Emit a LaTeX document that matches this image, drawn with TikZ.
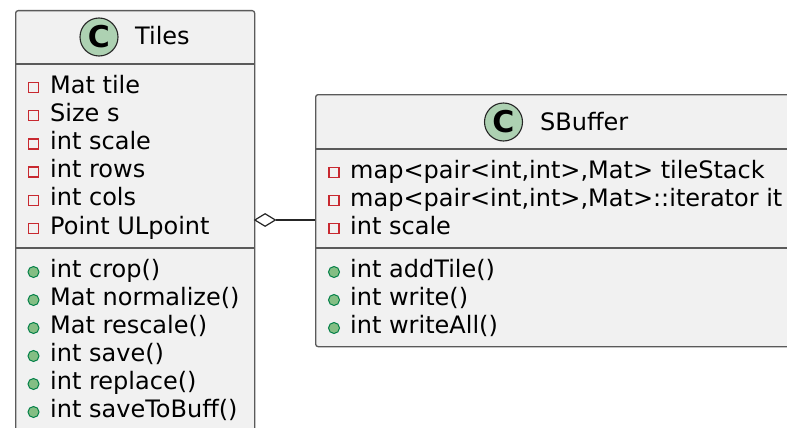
\documentclass[tikz,border=0pt]{standalone}
\usepackage{fontspec}
\setmainfont{DejaVu Sans}
\usetikzlibrary{shapes.geometric}
\definecolor{boxfill}{HTML}{F1F1F1}
\definecolor{boxline}{HTML}{5A5A5A}
\definecolor{cfill}{HTML}{ADD1B2}
\definecolor{privred}{HTML}{C82930}
\definecolor{pubfill}{HTML}{84BE84}
\definecolor{publine}{HTML}{038048}
\tikzset{
  classbox/.style={draw=boxline, fill=boxfill, line width=1.3pt, rounded corners=2.5pt, inner sep=0pt, anchor=north west},
  sep/.style={draw=boxline, line width=1.3pt},
  cicon/.style={circle, draw=black!85, fill=cfill, line width=1.1pt, minimum size=38pt, inner sep=0pt, font=\fontsize{30pt}{32pt}\selectfont\bfseries},
  title/.style={anchor=base west, inner sep=0pt, font=\fontsize{24pt}{28pt}\selectfont},
  member/.style={anchor=base west, inner sep=0pt, font=\fontsize{24pt}{28pt}\selectfont},
  privsq/.style={draw=privred, line width=1.4pt},
  pub/.style={draw=publine, fill=pubfill, line width=1pt, minimum size=11pt, inner sep=0pt, circle},
  aggr/.style={diamond, draw=black!85, fill=white, line width=1.2pt, aspect=1.6, minimum width=21pt, minimum height=13pt, inner sep=0pt, anchor=west},
  link/.style={draw=black!85, line width=1.2pt}
}
\begin{document}
\begin{tikzpicture}[x=1pt,y=-1pt]
\useasboundingbox (0,0) rectangle (787,428);
\clip (0,0) rectangle (787,428);
\fill[white] (0,0) rectangle (787,428);
% Tiles
\node[classbox, minimum width=239pt, minimum height=460pt] (tiles) at (15,10) {};
\draw[sep] (15,64) -- (254,64);
\draw[sep] (15,248) -- (254,248);
\node[cicon] (tc) at (99,37) {C};
\node[title] (tt) at (135,45) {Tiles};
\foreach \n/\y/\t in {a1/93/Mat tile, a2/121.2/Size s, a3/149.4/int scale, a4/177.6/int rows, a5/205.8/int cols, a6/234/Point ULpoint}{
  \draw[privsq] (28.5,\y-10.5) rectangle (38.5,\y-0.5);
  \node[member] (t\n) at (50,\y) {\t};
}
\foreach \n/\y/\t in {m1/277/int crop(), m2/305/Mat normalize(), m3/333/Mat rescale(), m4/361/int save(), m5/389/int replace(), m6/417/int saveToBuff()}{
  \node[pub] (ti\n) at (33.5,\y-5) {};
  \node[member] (t\n) at (50,\y) {\t};
}
% SBuffer
\node[classbox, minimum width=500pt, minimum height=252pt] (sbuf) at (315,94) {};
\draw[sep] (315,149) -- (800,149);
\draw[sep] (315,248) -- (800,248);
\node[cicon] (sc) at (503.5,122) {C};
\node[title] (st) at (540,130) {SBuffer};
\foreach \n/\y/\t in {a1/178/{map<pair<int,int>,Mat> tileStack}, a2/206/{map<pair<int,int>,Mat>::iterator it}, a3/234/int scale}{
  \draw[privsq] (329,\y-10.5) rectangle (339,\y-0.5);
  \node[member] (s\n) at (350,\y) {\t};
}
\foreach \n/\y/\t in {m1/277/int addTile(), m2/305/int write(), m3/333/int writeAll()}{
  \node[pub] (si\n) at (334,\y-5) {};
  \node[member] (s\n) at (350,\y) {\t};
}
% aggregation
\node[aggr] (dia) at (254,220) {};
\draw[link] (dia.east) -- (sbuf.west |- dia.east);
\end{tikzpicture}
\end{document}
